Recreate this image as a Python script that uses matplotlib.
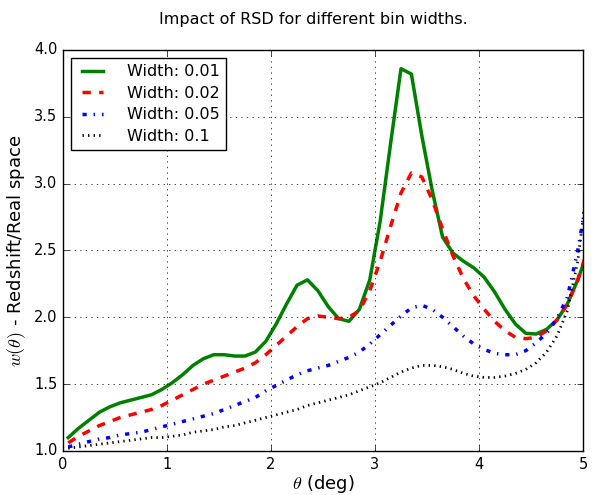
import numpy as np
import matplotlib
matplotlib.use('Agg')
import matplotlib.pyplot as plt

# angular bins (deg), centres every 0.1
theta = [0.05, 0.15, 0.25, 0.35, 0.45, 0.55, 0.65, 0.75, 0.85, 0.95,
         1.05, 1.15, 1.25, 1.35, 1.45, 1.55, 1.65, 1.75, 1.85, 1.95,
         2.05, 2.15, 2.25, 2.35, 2.45, 2.55, 2.65, 2.75, 2.85, 2.95,
         3.05, 3.15, 3.25, 3.35, 3.45, 3.55, 3.65, 3.75, 3.85, 3.95,
         4.05, 4.15, 4.25, 4.35, 4.45, 4.55, 4.65, 4.75, 4.85, 4.95, 5.05]

# ratio w(theta) redshift / real space for each bin width
w_001 = [1.10, 1.17, 1.23, 1.29, 1.33, 1.36, 1.38, 1.40, 1.42, 1.46,
         1.51, 1.57, 1.64, 1.69, 1.72, 1.72, 1.71, 1.71, 1.74, 1.82,
         1.95, 2.10, 2.24, 2.28, 2.20, 2.08, 1.99, 1.97, 2.06, 2.28,
         2.72, 3.30, 3.86, 3.82, 3.36, 2.95, 2.60, 2.48, 2.42, 2.37,
         2.30, 2.19, 2.06, 1.95, 1.88, 1.875, 1.91, 1.98, 2.10, 2.28, 2.50]
w_002 = [1.06, 1.11, 1.15, 1.19, 1.22, 1.25, 1.27, 1.29, 1.31, 1.34,
         1.38, 1.42, 1.46, 1.50, 1.53, 1.56, 1.59, 1.62, 1.66, 1.72,
         1.79, 1.86, 1.93, 1.99, 2.01, 2.00, 1.99, 2.00, 2.05, 2.20,
         2.42, 2.68, 2.93, 3.08, 3.05, 2.88, 2.66, 2.46, 2.29, 2.16,
         2.06, 1.97, 1.90, 1.85, 1.84, 1.85, 1.90, 1.98, 2.10, 2.28, 2.52]
w_005 = [1.03, 1.05, 1.07, 1.09, 1.10, 1.12, 1.13, 1.14, 1.16, 1.18,
         1.20, 1.22, 1.24, 1.26, 1.28, 1.31, 1.34, 1.37, 1.40, 1.45,
         1.49, 1.53, 1.57, 1.60, 1.62, 1.64, 1.67, 1.70, 1.74, 1.80,
         1.87, 1.94, 2.01, 2.07, 2.09, 2.06, 2.00, 1.93, 1.86, 1.80,
         1.76, 1.73, 1.72, 1.72, 1.75, 1.81, 1.88, 1.99, 2.15, 2.50, 2.95]
w_01 = [1.02, 1.03, 1.04, 1.05, 1.06, 1.07, 1.08, 1.09, 1.10, 1.10,
        1.11, 1.12, 1.14, 1.15, 1.16, 1.18, 1.19, 1.21, 1.23, 1.25,
        1.27, 1.29, 1.31, 1.34, 1.36, 1.38, 1.40, 1.42, 1.45, 1.48,
        1.51, 1.55, 1.59, 1.62, 1.64, 1.64, 1.63, 1.61, 1.58, 1.56,
        1.55, 1.55, 1.56, 1.58, 1.61, 1.66, 1.74, 1.86, 2.05, 2.42, 3.05]

labels = ['Width: 0.01', 'Width: 0.02', 'Width: 0.05', 'Width: 0.1']

plt.style.use('classic')
fig = plt.figure(figsize=(6.06, 4.95), dpi=100, facecolor='white')
ax = fig.add_axes([0.104, 0.089, 0.858, 0.810])

ax.plot(theta, w_001, color='green', ls='-', lw=2.5, label=labels[0])
ax.plot(theta, w_002, color='red', ls='--', lw=2.5, label=labels[1])
ax.plot(theta, w_005, color='blue', ls='-.', lw=2.5, label=labels[2])
ax.plot(theta, w_01, color='black', ls=':', lw=2, label=labels[3])

ax.set_xlim(0, 5)
ax.set_ylim(1.0, 4.0)
ax.grid(True)
ax.tick_params(labelsize=10.5)
ax.set_xlabel(r'$\theta$ (deg)', fontsize=13, labelpad=1)
ax.set_ylabel(r'$w(\theta)$ - Redshift/Real space', fontsize=13, labelpad=4)
ax.legend(loc='upper left', fontsize=11.5, handlelength=1.9, handletextpad=1.2,
          labelspacing=0.4)
fig.text(0.517, 0.96, 'Impact of RSD for different bin widths.', ha='center', va='center', fontsize=11.5)

fig.savefig('out.png', dpi=100, facecolor='white')
